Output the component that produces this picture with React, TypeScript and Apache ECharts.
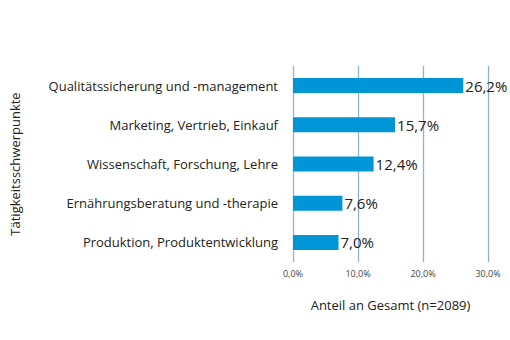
import React, { useEffect, useRef } from "react";
import * as echarts from "echarts";

const categories = [
  "Produktion, Produktentwicklung",
  "Ernährungsberatung und -therapie",
  "Wissenschaft, Forschung, Lehre",
  "Marketing, Vertrieb, Einkauf",
  "Qualitätssicherung und -management",
];
const values = [7.0, 7.6, 12.4, 15.7, 26.2];
const xTicks = [0, 10, 20, 30];

const fmt = (v: number) => v.toFixed(1).replace(".", ",") + "%";
const FONT = "'Open Sans', sans-serif";

export default function App() {
  const ref = useRef<HTMLDivElement>(null);
  useEffect(() => {
    if (!ref.current) return;
    const chart = echarts.init(ref.current, null, { renderer: "svg" });
    chart.setOption({
      animation: false,
      backgroundColor: "#ffffff",
      grid: { left: 293, right: 22, top: 66, bottom: 78, containLabel: false },
      xAxis: {
        type: "value",
        min: xTicks[0],
        max: xTicks[xTicks.length - 1],
        interval: 10,
        axisLine: { show: false },
        axisTick: { show: false },
        splitLine: { show: true, lineStyle: { color: "#8fb2dd", width: 1.3 } },
        axisLabel: {
          formatter: (v: number) => fmt(v),
          fontFamily: FONT,
          fontSize: 9,
          color: "#444",
          margin: 7,
        },
        name: "Anteil an Gesamt (n=2089)",
        nameLocation: "middle",
        nameGap: 36,
        nameTextStyle: { fontFamily: FONT, fontSize: 13, color: "#222" },
      },
      yAxis: {
        type: "category",
        data: categories,
        axisLine: { show: false },
        axisTick: { show: false },
        splitLine: { show: false },
        axisLabel: {
          fontFamily: FONT,
          fontSize: 13,
          color: "#222",
          margin: 15,
        },
        name: "Tätigkeitsschwerpunkte",
        nameLocation: "middle",
        nameRotate: 90,
        nameGap: 272,
        nameTextStyle: { fontFamily: FONT, fontSize: 13, color: "#222" },
      },
      series: [
        {
          type: "bar",
          data: values,
          barWidth: 15,
          itemStyle: { color: "#0096d6" },
          label: {
            show: true,
            position: "right",
            distance: 2,
            formatter: (p: any) => fmt(p.value),
            fontFamily: FONT,
            fontSize: 15,
            color: "#222",
          },
        },
      ],
    });
    return () => chart.dispose();
  }, []);
  return <div ref={ref} style={{ width: 510, height: 340, position: "absolute", left: 0, top: 0 }} />;
}
